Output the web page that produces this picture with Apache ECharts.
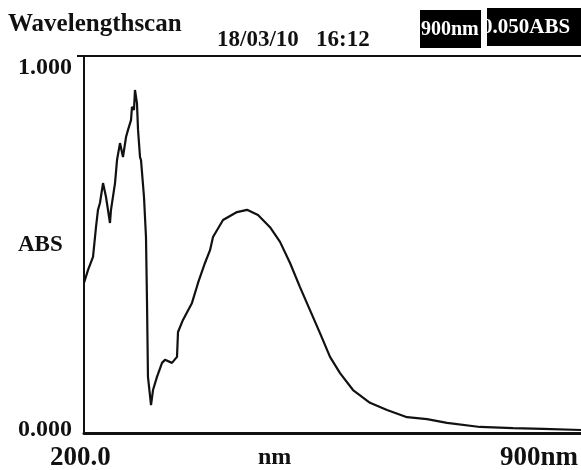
<!DOCTYPE html>
<html>
<head>
<meta charset="utf-8">
<script src="https://cdn.jsdelivr.net/npm/echarts@6/dist/echarts.min.js"></script>
<style>
  html, body { margin: 0; padding: 0; background: #ffffff; }
  #chart { width: 581px; height: 470px; }
</style>
</head>
<body>
<div id="chart"></div>
<script>
// wavelength (nm) and absorbance
var wavelengths = [200, 205.6, 212.7, 216.9, 219.7, 222.5, 226.8, 231.0, 236.6, 238.0, 243.7, 246.5, 250.7, 254.9, 259.2, 262.0, 266.2, 267.6, 270.4, 271.8, 274.6, 276.1, 278.9, 280.3, 284.5, 287.3, 288.7, 290.1, 294.4, 297.2, 302.8, 309.9, 314.1, 323.9, 331.0, 332.4, 339.4, 352.1, 360.6, 370.4, 377.5, 381.7, 395.8, 415.5, 429.6, 445.1, 462.0, 476.1, 490.2, 504.2, 518.3, 532.4, 546.5, 560.6, 578.9, 602.8, 626.8, 655.0, 683.1, 711.3, 757.8, 804.2, 846.5, 900];
var absorbance = [0.398, 0.432, 0.467, 0.546, 0.592, 0.610, 0.663, 0.626, 0.557, 0.592, 0.663, 0.724, 0.769, 0.732, 0.785, 0.804, 0.830, 0.865, 0.857, 0.910, 0.875, 0.804, 0.732, 0.724, 0.626, 0.520, 0.353, 0.149, 0.074, 0.114, 0.149, 0.186, 0.194, 0.186, 0.202, 0.268, 0.300, 0.345, 0.398, 0.451, 0.485, 0.520, 0.565, 0.586, 0.592, 0.578, 0.546, 0.507, 0.451, 0.387, 0.326, 0.265, 0.202, 0.159, 0.114, 0.080, 0.061, 0.042, 0.037, 0.027, 0.016, 0.013, 0.011, 0.008];
var yTickLabels = ['0.000', '1.000'];
var xTickLabels = ['200.0', 'nm', '900nm'];

var points = [];
for (var i = 0; i < wavelengths.length; i++) {
  points.push([wavelengths[i], absorbance[i]]);
}

var serif = '"Liberation Serif", "DejaVu Serif", serif';
function label(x, y, s, size, color) {
  return { type: 'text', x: x, y: y, style: { text: s, font: 'bold ' + size + 'px ' + serif, fill: color || '#111', verticalAlign: 'middle' } };
}

var chart = echarts.init(document.getElementById('chart'));
chart.setOption({
  backgroundColor: '#ffffff',
  animation: false,
  grid: { left: 84, right: 0, top: 56, bottom: 37 },
  xAxis: [
    { type: 'value', min: 200, max: 900, position: 'bottom',
      axisLine: { lineStyle: { color: '#111', width: 3 } },
      axisTick: { show: false }, axisLabel: { show: false }, splitLine: { show: false } },
    { type: 'value', min: 200, max: 900, position: 'top',
      axisLine: { lineStyle: { color: '#111', width: 2 } },
      axisTick: { show: false }, axisLabel: { show: false }, splitLine: { show: false } }
  ],
  yAxis: {
    type: 'value', min: 0, max: 1,
    axisLine: { show: true, lineStyle: { color: '#111', width: 2 } },
    axisTick: { show: false }, axisLabel: { show: false }, splitLine: { show: false }
  },
  series: [{
    type: 'line', xAxisIndex: 0, data: points, showSymbol: false,
    lineStyle: { color: '#111', width: 2.2 }
  }],
  graphic: [
    { type: 'rect', shape: { x: 420, y: 10, width: 61, height: 38 }, style: { fill: '#000' } },
    { type: 'rect', shape: { x: 487, y: 8, width: 94, height: 38 }, style: { fill: '#000' } },
    { type: 'line', shape: { x1: 77, y1: 56, x2: 84, y2: 56 }, style: { stroke: '#111', lineWidth: 2 } },
    label(8, 25, 'Wavelengthscan', 25),
    label(217, 40, '18/03/10   16:12', 23),
    label(421, 30, '900nm', 20, '#fff'),
    label(482, 28, '0.050ABS', 21, '#fff'),
    label(18, 68, yTickLabels[1], 24),
    label(18, 245, 'ABS', 23),
    label(18, 430, yTickLabels[0], 24),
    label(50, 458, xTickLabels[0], 27),
    label(258, 458, xTickLabels[1], 24),
    label(500, 458, xTickLabels[2], 27)
  ]
});
</script>
</body>
</html>
